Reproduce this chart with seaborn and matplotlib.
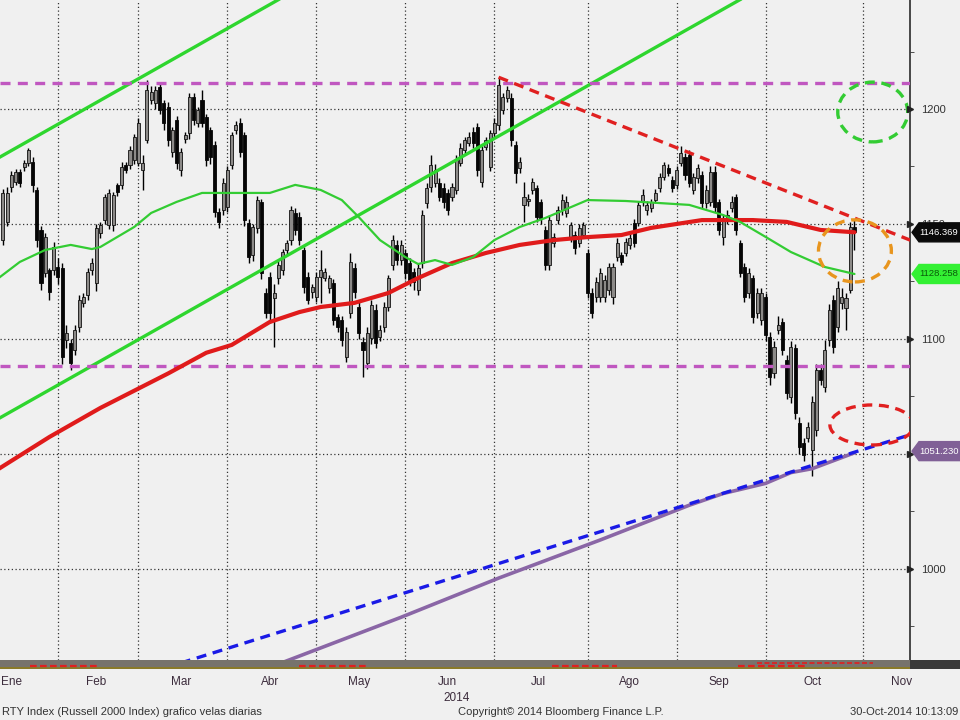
import numpy as np
import pandas as pd
import matplotlib
matplotlib.use('Agg')
import matplotlib.pyplot as plt
import matplotlib.transforms as mtransforms
from matplotlib.patches import Ellipse, Polygon
import seaborn as sns

# ---- daily candles (trading-day index starts at 8 = 13-Jan-2014) ----
first_day = 8
opens = [1143, 1151, 1166, 1168.3, 1172.6, 1174.8, 1176.5, 1177, 1164.8, 1147.4,
         1128.7, 1130, 1130, 1131.3, 1130.9, 1099.6, 1098.3, 1095.2, 1105.2, 1115.7,
         1119.1, 1130, 1124.4, 1146.1, 1151.7, 1149.6, 1149.6, 1166.9, 1166.9, 1175.7,
         1175.7, 1177.8, 1176.5, 1173.5, 1186.5, 1203.9, 1202.6, 1209.6, 1202.6, 1200.9,
         1181.3, 1195.2, 1173.5, 1187, 1189.6, 1205.2, 1193.9, 1203.9, 1196.5, 1190.9,
         1184.4, 1155.2, 1156.1, 1157.4, 1175.7, 1190.9, 1193.9, 1188.7, 1150.4, 1136.5,
         1148.3, 1159.6, 1120, 1127, 1117.8, 1126.5, 1130, 1138.7, 1143.1, 1154.8,
         1153, 1138.7, 1127, 1120.4, 1118.3, 1127, 1126.5, 1122.2, 1124.4, 1109.6,
         1108.3, 1092.2, 1111.3, 1130.9, 1113.9, 1098.7, 1089.6, 1100.4, 1112.6, 1100.9,
         1105.2, 1113.9, 1132.2, 1140.9, 1134.3, 1137.4, 1133, 1129.1, 1121.3, 1133,
         1159.1, 1166.1, 1167.8, 1167.8, 1165.6, 1163.5, 1161.7, 1164.8, 1176.5, 1182.2,
         1185.2, 1190, 1192.2, 1168.3, 1183.5, 1174.8, 1189.6, 1193, 1199.6, 1204.8,
         1204.8, 1184.4, 1174.4, 1158.3, 1160, 1164.8, 1165.6, 1159.6, 1147.4, 1132.2,
         1141.7, 1151.7, 1156.1, 1154.8, 1144.4, 1145.2, 1141.7, 1145.2, 1137.4, 1120,
         1118.3, 1118.3, 1118.3, 1121.3, 1118.3, 1135.6, 1136.5, 1137.4, 1140.9, 1150.4,
         1150.4, 1159.6, 1156.1, 1157, 1160.4, 1165.6, 1170.4, 1174.4, 1169.1, 1167,
         1176.5, 1179.1, 1180, 1164.8, 1170, 1171.3, 1159.1, 1159.6, 1172.6, 1159.6,
         1144.4, 1151.7, 1157, 1161.7, 1141.7, 1131.3, 1120, 1126.5, 1111.3, 1108.3,
         1118.3, 1100.9, 1085.2, 1103.9, 1107.4, 1090.9, 1074.8, 1096.1, 1063.5, 1054.8,
         1057, 1051.7, 1060.4, 1086.5, 1079.1, 1099.6, 1117, 1105.2, 1115.7, 1113.5,
         1121.3, 1148.5]
closes = [1163.5, 1163.5, 1171.3, 1172.6, 1167.8, 1176.5, 1182.2, 1167, 1143.1, 1124.4,
          1144.4, 1120.4, 1140, 1127, 1092.2, 1102.6, 1089.6, 1103.9, 1117, 1118.3,
          1129.1, 1133, 1148.3, 1149.6, 1161.7, 1163.5, 1162.6, 1163.9, 1174.8, 1173.5,
          1182.2, 1187.8, 1193.9, 1176.5, 1208.3, 1207.4, 1208.3, 1199.6, 1193.9, 1186.5,
          1190.9, 1176.5, 1181.3, 1188.7, 1205.2, 1195.2, 1199.6, 1193.9, 1177.8, 1179.1,
          1155.2, 1150.9, 1167.8, 1173.5, 1188.7, 1193.1, 1181.3, 1151.7, 1135.6, 1148.7,
          1160.4, 1128.7, 1111.3, 1111.3, 1120, 1132.2, 1137.8, 1141.7, 1156.1, 1147.4,
          1143.1, 1122.6, 1117, 1122.6, 1127, 1130, 1129.1, 1126.5, 1108.3, 1105.2,
          1099.6, 1103, 1133.5, 1120.4, 1102.6, 1095.2, 1102.6, 1114.8, 1098.3, 1103.9,
          1113.9, 1126.5, 1143.1, 1134.3, 1140.9, 1128.7, 1125.7, 1124.8, 1130.9, 1153.9,
          1165.6, 1175.7, 1173.5, 1161.7, 1159.6, 1156.1, 1166.1, 1177.8, 1183, 1186.5,
          1187.8, 1185.2, 1173.5, 1182.2, 1186.5, 1189.6, 1193.9, 1210.4, 1205.2, 1208.3,
          1186.5, 1172.2, 1177, 1161.7, 1160.8, 1168.3, 1153, 1152.6, 1132.2, 1151.7,
          1144.4, 1156.1, 1160.4, 1159.6, 1149.6, 1139.6, 1148.3, 1149.6, 1120, 1111.3,
          1124.8, 1128.7, 1125.7, 1131.3, 1131.3, 1141.7, 1133.5, 1142.2, 1143.9, 1141.7,
          1158.3, 1162.6, 1158.3, 1159.6, 1163.5, 1170.4, 1175.7, 1172.2, 1165.6, 1173.5,
          1180.9, 1171.3, 1167.8, 1170.4, 1174.4, 1159.1, 1164.8, 1172.6, 1157.4, 1147.4,
          1152.6, 1153.9, 1159.6, 1147.4, 1128.7, 1118.3, 1128.7, 1109.6, 1120, 1120,
          1101.7, 1083.5, 1096.5, 1106.1, 1095.2, 1076.5, 1096.5, 1067.8, 1053, 1049.6,
          1061.7, 1072.6, 1086.5, 1082.2, 1095.2, 1112.6, 1096.5, 1122.2, 1118.3, 1117.8,
          1148.7, 1146.369]
highs = [1165, 1166, 1173, 1174, 1174, 1178, 1183, 1179, 1166, 1149,
         1146, 1131, 1142, 1135, 1133, 1106, 1100, 1106, 1119, 1120,
         1131, 1135, 1150, 1151, 1163, 1165, 1164, 1168, 1177, 1177,
         1184, 1189, 1196, 1180, 1212.6, 1210, 1210, 1211, 1204, 1203,
         1192, 1197, 1183, 1190, 1207, 1207, 1201, 1208.3, 1198, 1192,
         1186, 1157, 1170, 1175, 1190, 1195, 1196, 1190, 1152, 1150,
         1162, 1161, 1122, 1129, 1124, 1134, 1139, 1143, 1158, 1157,
         1155, 1140, 1129, 1124, 1129, 1138.7, 1131, 1128, 1126, 1111,
         1110, 1105, 1137.4, 1133, 1116, 1101, 1105, 1117, 1115, 1106,
         1116, 1128, 1145, 1143, 1143, 1139, 1135, 1131, 1133, 1156,
         1168, 1180, 1176, 1170, 1168, 1165, 1168, 1180, 1185, 1188,
         1190, 1192, 1194, 1184, 1188, 1191, 1196, 1213.9, 1207, 1210,
         1207, 1186, 1179, 1168.3, 1163, 1170, 1167, 1161, 1149, 1154,
         1146, 1158, 1163, 1162, 1151, 1147, 1150, 1151, 1139, 1122,
         1127, 1131, 1128, 1133, 1133, 1144, 1138, 1144, 1146, 1152,
         1160, 1165, 1160, 1161, 1165, 1172, 1177, 1176, 1171, 1175,
         1184, 1181, 1182, 1172, 1176, 1173, 1167, 1175, 1175, 1161,
         1154, 1156, 1162, 1163, 1143, 1133, 1131, 1128, 1122, 1122,
         1120, 1103, 1099, 1110, 1109, 1093, 1099, 1098, 1066, 1057,
         1064, 1075, 1089, 1089, 1099.6, 1115, 1119, 1125, 1122, 1120,
         1151, 1152]
lows = [1141, 1149, 1164, 1167, 1166, 1173, 1175, 1164, 1140, 1121.3,
        1127, 1117, 1128, 1124, 1089, 1096, 1086.5, 1093, 1103, 1114,
        1117, 1128, 1121, 1144, 1150, 1148, 1147, 1162, 1165, 1172,
        1174, 1176, 1175, 1164.8, 1185, 1202, 1200, 1198, 1191, 1184,
        1179, 1174, 1171, 1185, 1187, 1193, 1192, 1192, 1175, 1176,
        1153, 1148.3, 1154, 1155, 1174, 1189, 1179, 1149, 1133, 1134,
        1146, 1126, 1109, 1107, 1096.5, 1124, 1128, 1137, 1141, 1145,
        1141, 1120, 1115, 1118, 1116, 1115.7, 1125, 1120, 1106, 1103,
        1097, 1090, 1109, 1118, 1100, 1083.5, 1087, 1098, 1096, 1099,
        1103, 1112, 1130, 1132, 1132, 1126, 1123, 1121.3, 1119, 1131,
        1157, 1164, 1166, 1160, 1157, 1154, 1160, 1163, 1175, 1180,
        1184, 1183, 1171, 1166, 1182, 1173, 1188, 1191, 1198, 1203,
        1184, 1167.8, 1172, 1150.9, 1158, 1163, 1151, 1150, 1130, 1130,
        1140, 1150, 1154, 1153, 1142, 1137, 1140, 1144, 1118, 1109,
        1116, 1116, 1116, 1119, 1115, 1134, 1132, 1136, 1139, 1140,
        1149, 1158, 1154, 1155, 1159, 1164, 1169, 1171, 1164, 1165,
        1175, 1169, 1166, 1163, 1168, 1157, 1157, 1158, 1155, 1145,
        1141, 1150, 1155, 1145, 1127, 1116, 1118, 1107, 1109, 1106,
        1099, 1080, 1083, 1102, 1093, 1074, 1072, 1065, 1050, 1047,
        1055, 1040.4, 1058, 1080, 1077, 1097, 1094, 1103, 1113, 1104,
        1120, 1138.7]

# ---- moving averages (read at sample days) ----
ma50_days = [7, 12, 18, 24, 29, 31, 39, 43, 49, 55, 62, 71, 77, 83, 88, 92, 97, 103,
             106, 110, 114, 119, 124, 130, 136, 146, 155, 163, 170, 178, 182, 188, 194, 202, 209]
ma50_vals = [1126.5, 1133.5, 1138.7, 1140.9, 1139.1, 1140, 1148.7, 1154.8, 1159.6, 1163.5,
             1163.5, 1163.5, 1167, 1164.8, 1160.4, 1153, 1143, 1135.6, 1132.6, 1134.3,
             1132.2, 1135.6, 1143, 1148.7, 1152.6, 1160.4, 1160, 1159.1, 1158.3, 1153.9,
             1150.9, 1144.4, 1137.8, 1131.3, 1128.258]
ma200_days = [7, 19, 31, 47, 56, 62, 71, 78, 83, 91, 99, 106, 114, 122, 130, 138, 146,
              154, 161, 173, 185, 193, 201, 209]
ma200_vals = [1043.5, 1057.4, 1070, 1085, 1094, 1097.4, 1107.4, 1111.7, 1113.9, 1115.7,
              1120, 1126.5, 1133, 1137.4, 1140.9, 1143, 1144.3, 1145.2, 1148.3, 1151.7,
              1151.7, 1150.9, 1147.4, 1146.4]
purple_days = [70, 102, 125, 149, 170, 178, 188, 194, 199, 209]
purple_vals = [956.5, 979, 996, 1012.6, 1027.7, 1032.8, 1037.2, 1041.9, 1043.6, 1050.5]

# ---- drawn trend lines (day, value) ----
chan_top_days, chan_top_vals = [0, 80], [1171.5, 1254.8]
chan_low_days, chan_low_vals = [0, 190], [1058.1, 1255.9]
down_days, down_vals = [125, 225], [1213.8, 1140.9]
up_days, up_vals = [50, 225], [959.1, 1060.0]
hlines_vals = [1211.5, 1088.3]

# ellipses: (day, value, width in days, height in points)
green_circle = (213.3, 1198.7, 16.5, 26)
orange_circle = (209.1, 1138.3, 17.2, 27)
red_circle = (213.1, 1062.6, 19.8, 17.4)

tag_values = [1146.369, 1128.258, 1051.230]

month_starts = [0, 21, 40, 61, 82, 103, 124, 146, 167, 188, 211, 230]
month_names = ['Ene', 'Feb', 'Mar', 'Abr', 'May', 'Jun', 'Jul', 'Ago', 'Sep', 'Oct', 'Nov']
band_low_start = [14.4, 78, 137.6, 181.5]
band_low_end = [30.2, 94, 152.9, 197.3]
band_up_start, band_up_end = [186], [213.3]

BG = '#f0f0f0'
FONT = ['Liberation Sans', 'DejaVu Sans']
sns.set_style('white', {'axes.facecolor': BG, 'figure.facecolor': BG})
plt.rcParams['font.family'] = FONT

fig = plt.figure(figsize=(9.6, 7.2), dpi=100)
ax = fig.add_axes([0, 60 / 720, 910 / 960, 660 / 720])

# candles
o = np.array(opens); c = np.array(closes); h = np.array(highs); l = np.array(lows)
days = np.arange(first_day, first_day + len(c))
up = c >= o
ax.vlines(days, np.minimum(l, np.minimum(o, c)), np.maximum(h, np.maximum(o, c)),
          color='black', lw=1.0, zorder=3)
ax.bar(days[up], c[up] - o[up], bottom=o[up], width=0.72, color='#8c8a88',
       edgecolor='#111111', lw=0.6, zorder=4)
ax.bar(days[~up], c[~up] - o[~up], bottom=o[~up], width=0.72, color='#050505',
       edgecolor='#050505', lw=0.6, zorder=4)

# moving averages with seaborn
sns.lineplot(x=ma200_days, y=ma200_vals, color='#e01b1b', lw=3.0, ax=ax, zorder=6)
sns.lineplot(x=ma50_days, y=ma50_vals, color='#33cc33', lw=1.6, ax=ax, zorder=6)
sns.lineplot(x=purple_days, y=purple_vals, color='#8a66a6', lw=2.6, ax=ax, zorder=6)

# trend lines
ax.plot(chan_top_days, chan_top_vals, color='#2ed62e', lw=2.4, zorder=5)
ax.plot(chan_low_days, chan_low_vals, color='#2ed62e', lw=2.4, zorder=5)
ax.plot(down_days, down_vals, color='#e02020', lw=2.4, dashes=(3, 2), zorder=7)
ax.plot(up_days, up_vals, color='#1a1ae6', lw=2.4, dashes=(3, 2), zorder=7)
for v in hlines_vals:
    ax.axhline(v, color='#c057c0', lw=2.4, dashes=(3, 2.2), zorder=5)

for (cx, cy, w, hh), col in [(green_circle, '#33cc33'), (orange_circle, '#e8951e'),
                              (red_circle, '#e02020')]:
    ax.add_patch(Ellipse((cx, cy), w, hh, fill=False, ec=col, lw=2.4,
                         ls=(0, (3, 2)), zorder=8))

# grid and ticks
ax.set_xticks(month_starts)
ax.set_yticks(np.arange(1000, 1201, 50))
ax.set_yticks(np.arange(975, 1240, 50), minor=True)
ax.set_xlim(7.32, 222.1)
ax.set_ylim(960.4, 1247.4)
ax.set_xlabel(''); ax.set_ylabel('')
ax.grid(True, which='major', color='#333333', lw=0.9, ls=(0, (1, 2)))
ax.tick_params(axis='x', length=0, labelbottom=False)
ax.yaxis.tick_right()
ax.tick_params(axis='y', which='major', length=0, pad=8, labelsize=8,
               labelcolor='#333333')
ax.tick_params(axis='y', which='minor', length=3, color='#333333', direction='out')
for s in ['left', 'top', 'bottom']:
    ax.spines[s].set_visible(False)
ax.spines['right'].set_color('#2a2a2a')
ax.spines['right'].set_linewidth(1.2)

trans = mtransforms.blended_transform_factory(ax.transAxes, ax.transData)
ax.plot([1.0] * 5, np.arange(1000, 1201, 50), ls='none', marker='>', ms=5,
        color='#222222', transform=trans, clip_on=False, zorder=9)

# value tags on the right edge (they hide the 1150 / 1050 labels, as in Bloomberg)
tag_styles = [('#0a0a0a', 'white'), ('#33f033', '#0a5a0a'), ('#806096', 'white')]
W, H = fig.get_size_inches() * fig.dpi
x_spine = ax.transAxes.transform((1, 0))[0]
for v, (fc, tc) in zip(tag_values, tag_styles):
    yp = ax.transData.transform((ax.get_xlim()[0], v))[1]
    pts = [(x_spine + 2, yp), (x_spine + 9, yp + 9.5), (W, yp + 9.5),
           (W, yp - 9.5), (x_spine + 9, yp - 9.5)]
    fig.patches.append(Polygon(pts, closed=True, fc=fc, ec=fc,
                               transform=None, figure=fig))
    fig.text((x_spine + 9.5) / W, yp / H, f'{v:.3f}', ha='left', va='center',
             color=tc, fontsize=6.8)

# bottom strip and month labels
bx0, bx1 = ax.get_xlim()
bx_end = bx0 + (bx1 - bx0) * 960 / 910
band = fig.add_axes([0, 51 / 720, 1, 9 / 720])
band.set_facecolor('#77736d')
band.set_xlim(bx0, bx_end)
band.set_ylim(0, 1)
band.axhspan(0, 0.25, color='#8a7a2a', lw=0)
band.axvspan(bx1, bx_end, color='#3a3a3a', lw=0)
for a, b in zip(band_low_start, band_low_end):
    band.plot([a, b], [0.3, 0.3], color='#e02020', lw=1.6, dashes=(3, 1.5))
for a, b in zip(band_up_start, band_up_end):
    band.plot([a, b], [0.7, 0.7], color='#e02020', lw=1.2, dashes=(3, 1.5))
for s in band.spines.values():
    s.set_visible(False)
band.set_yticks([])
band.set_xticks(month_starts[:-1])
band.set_xticklabels([])
mids = [(month_starts[k] + month_starts[k + 1] - 1) / 2 for k in range(len(month_names))]
band.set_xticks(mids, minor=True)
band.set_xticklabels(month_names, minor=True)
band.set_xlim(bx0, bx_end)
band.tick_params(axis='x', which='major', length=4, color='#444444', direction='out')
band.tick_params(axis='x', which='minor', length=0, pad=5, labelsize=8.5,
                 labelcolor='#3c2c3c')
band.text(mids[5] - 1.0, -3.2, '2014', ha='left', va='center', fontsize=8.5,
          color='#3c2c3c', transform=mtransforms.blended_transform_factory(
              band.transData, band.transAxes))

fig.text(2 / 960, 8 / 720, 'RTY Index (Russell 2000 Index) grafico velas diarias',
         ha='left', va='center', fontsize=8, color='#333333')
fig.text(458 / 960, 8 / 720, 'Copyright\u00a9 2014 Bloomberg Finance L.P.',
         ha='left', va='center', fontsize=8, color='#333333')
fig.text(958 / 960, 8 / 720, '30-Oct-2014 10:13:09',
         ha='right', va='center', fontsize=8, color='#333333')

fig.savefig('out.png', dpi=100, facecolor=BG)
